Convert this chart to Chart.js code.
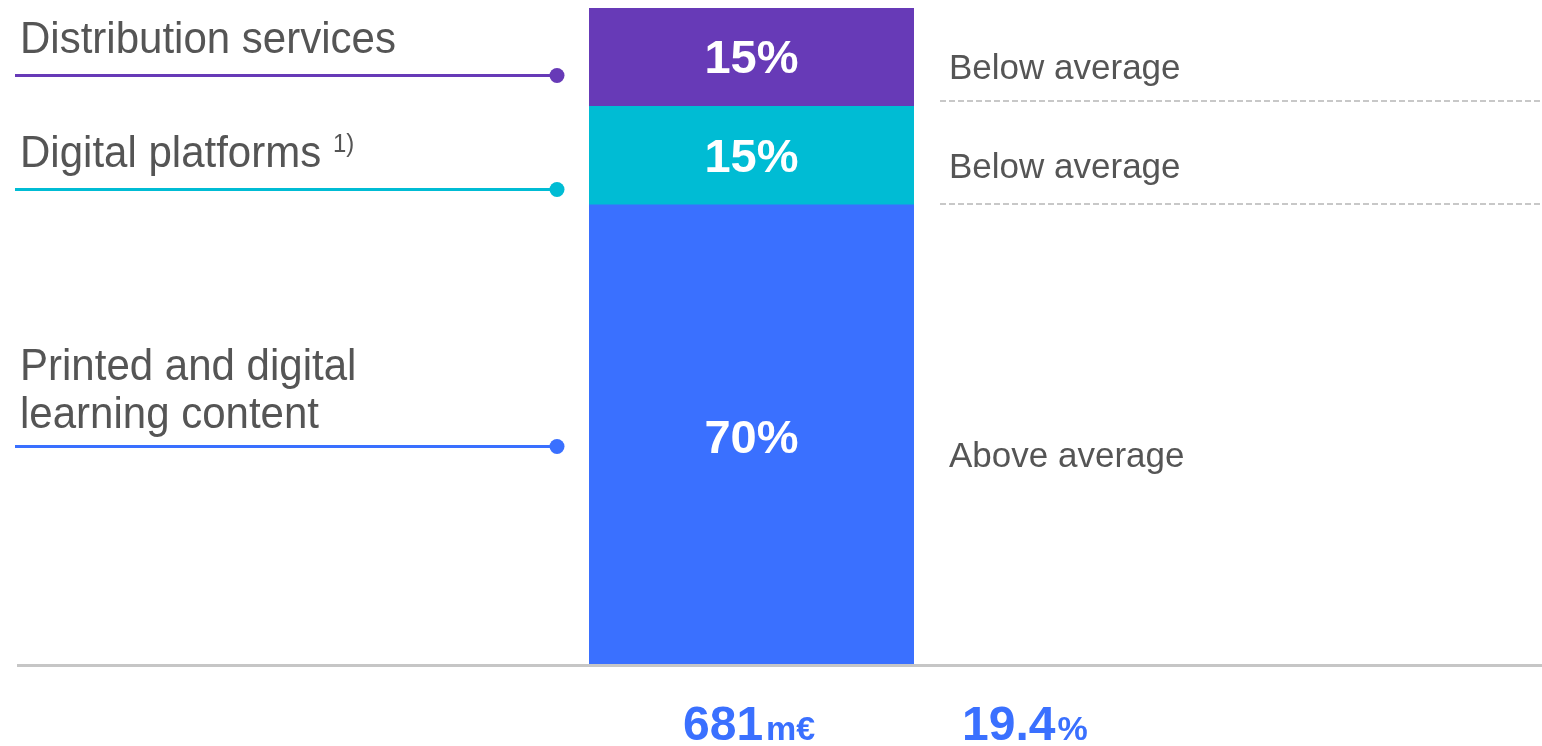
<!DOCTYPE html>
<html>
<head>
<meta charset="utf-8">
<style>
  html, body { margin: 0; padding: 0; background: #fff; overflow: hidden; }
</style>
<script src="https://cdn.jsdelivr.net/npm/chart.js@4.4.1/dist/chart.umd.min.js"></script>
</head>
<body>
<canvas id="split" width="1542" height="746"></canvas>
<script>
// revenue split of the segment, bottom to top of the bar
const categories = ['Segment'];
const segmentNames = [['Printed and digital', 'learning content'], ['Digital platforms'], ['Distribution services']];
const footnotes = ['', '1)', ''];
const shares = [70, 15, 15];
const ratings = ['Above average', 'Below average', 'Below average'];
const revenue = 681;   // m€
const margin = 19.4;   // %

const colors = ['#3a70ff', '#00bcd4', '#673ab7'];
const FONT = '"Liberation Sans", Arial, sans-serif';
const GREY_TEXT = '#555555';

// px offsets from the top of each bar segment
const leaderOffset = [241, 83, 67];
const ratingOffset = [262, 72, 71];
// dashed separator offset from the bottom of the segment
const dashOffset = [0, -1, -5];

const annotate = {
  id: 'annotate',
  afterDraw(chart) {
    const ctx = chart.ctx;
    const y = chart.scales.y;
    const area = chart.chartArea;
    ctx.save();

    // axis base line
    ctx.strokeStyle = '#c6c6c6';
    ctx.lineWidth = 3;
    ctx.beginPath();
    ctx.moveTo(17, area.bottom + 1.5);
    ctx.lineTo(chart.width, area.bottom + 1.5);
    ctx.stroke();

    let cum = 0;
    shares.forEach((v, i) => {
      const bot = y.getPixelForValue(cum);
      const top = y.getPixelForValue(cum + v);
      cum += v;
      const bar = chart.getDatasetMeta(i).data[0];

      // share inside the bar
      ctx.fillStyle = '#fff';
      ctx.font = 'bold 47px ' + FONT;
      ctx.textAlign = 'center';
      ctx.textBaseline = 'middle';
      ctx.fillText(v + '%', bar.x, (top + bot) / 2 + (i === 0 ? 6 : 3));

      // leader line with dot
      const ly = Math.round(top + leaderOffset[i]) + 0.5;
      const lx = area.left - 32;
      ctx.strokeStyle = colors[i];
      ctx.lineWidth = 3;
      ctx.beginPath();
      ctx.moveTo(15, ly);
      ctx.lineTo(lx, ly);
      ctx.stroke();
      ctx.fillStyle = colors[i];
      ctx.beginPath();
      ctx.arc(lx, ly, 7.5, 0, Math.PI * 2);
      ctx.fill();

      // segment name above the leader, slightly condensed
      ctx.fillStyle = GREY_TEXT;
      ctx.textAlign = 'left';
      ctx.textBaseline = 'alphabetic';
      const lines = segmentNames[i];
      const gap = lines.length > 1 ? 19 : 23;
      lines.forEach((t, k) => {
        const by = ly - gap - (lines.length - 1 - k) * 48;
        ctx.save();
        ctx.translate(20, by);
        ctx.scale(0.955, 1);
        ctx.font = '44px ' + FONT;
        ctx.fillText(t, 0, 0);
        if (k === lines.length - 1 && footnotes[i]) {
          const w = ctx.measureText(t + ' ').width;
          ctx.font = '25px ' + FONT;
          ctx.fillText(footnotes[i], w, -15);
        }
        ctx.restore();
      });

      // rating on the right
      ctx.font = '35px ' + FONT;
      ctx.fillText(ratings[i], 949, top + ratingOffset[i]);

      // dashed separator under the smaller segments
      if (i > 0) {
        const dy = Math.round(bot) + dashOffset[i];
        ctx.strokeStyle = '#c8c8c8';
        ctx.lineWidth = 2;
        ctx.setLineDash([6, 3]);
        ctx.beginPath();
        ctx.moveTo(940, dy);
        ctx.lineTo(chart.width, dy);
        ctx.stroke();
        ctx.setLineDash([]);
      }
    });

    // totals under the axis
    ctx.fillStyle = '#3a70ff';
    ctx.textAlign = 'left';
    ctx.textBaseline = 'alphabetic';
    const put = (big, small, x, gapPx) => {
      ctx.font = 'bold 48px ' + FONT;
      ctx.fillText(big, x, 740);
      const w = ctx.measureText(big).width;
      ctx.font = 'bold 34px ' + FONT;
      ctx.fillText(small, x + w + gapPx, 740);
    };
    put(String(revenue), 'm€', 683, 3);
    put(margin.toFixed(1), '%', 962, 2);

    ctx.restore();
  }
};

const ctx = document.getElementById('split').getContext('2d');
new Chart(ctx, {
  type: 'bar',
  data: {
    labels: categories,
    datasets: shares.map((v, i) => ({
      label: segmentNames[i].join(' '),
      data: [v],
      backgroundColor: colors[i],
      borderWidth: 0,
      categoryPercentage: 1,
      barPercentage: 1
    }))
  },
  options: {
    responsive: false,
    animation: false,
    layout: { padding: { left: 589, right: 628, top: 8, bottom: 82 } },
    scales: {
      x: { stacked: true, display: false },
      y: { stacked: true, display: false, min: 0, max: 100 }
    },
    plugins: { legend: { display: false }, tooltip: { enabled: false } }
  },
  plugins: [annotate]
});
</script>
</body>
</html>
